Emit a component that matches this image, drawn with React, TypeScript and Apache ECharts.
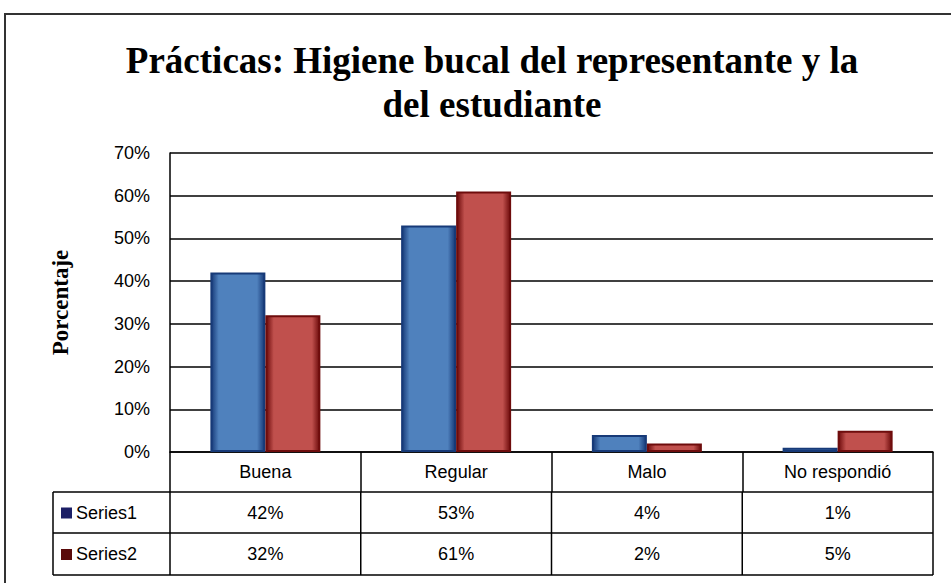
import React, { useEffect, useRef } from "react";
import * as echarts from "echarts";

const categories = ["Buena", "Regular", "Malo", "No respondió"];
const series1 = [42, 53, 4, 1];
const series2 = [32, 61, 2, 5];
const seriesNames = ["Series1", "Series2"];
const yTicks = [0, 10, 20, 30, 40, 50, 60, 70];

const PLOT_L = 170;
const PLOT_R = 933;
const PLOT_T = 153;
const PLOT_B = 452;
const TABLE_L = 53;
const ROW1 = 492;
const ROW2 = 533;
const ROW3 = 575;

const SANS = "'Liberation Sans', Arial, sans-serif";
const SERIF = "'Liberation Serif', 'Times New Roman', serif";

function barGradient(dark: string, main: string) {
  return new echarts.graphic.LinearGradient(0, 0, 1, 0, [
    { offset: 0, color: dark },
    { offset: 0.14, color: main },
    { offset: 0.86, color: main },
    { offset: 1, color: dark },
  ]);
}

export default function App() {
  const ref = useRef<HTMLDivElement>(null);
  useEffect(() => {
    document.body.style.margin = "0";
    const chart = echarts.init(ref.current!, null, { renderer: "svg" });
    const catW = (PLOT_R - PLOT_L) / categories.length;
    const lineStyle = { stroke: "#000", lineWidth: 1.5 };
    const graphics: any[] = [];
    // outer frame
    graphics.push({
      type: "rect",
      shape: { x: 5, y: 14, width: 1000, height: 700 },
      style: { fill: "none", stroke: "#333", lineWidth: 2 },
      z: 1,
    });
    // table horizontal lines
    [ROW1, ROW2, ROW3].forEach((y) =>
      graphics.push({ type: "line", shape: { x1: TABLE_L, y1: y, x2: PLOT_R, y2: y }, style: lineStyle })
    );
    // table vertical lines
    graphics.push({ type: "line", shape: { x1: TABLE_L, y1: ROW1, x2: TABLE_L, y2: ROW3 }, style: lineStyle });
    for (let i = 0; i <= categories.length; i++) {
      const x = PLOT_L + i * catW;
      graphics.push({ type: "line", shape: { x1: x, y1: ROW1, x2: x, y2: ROW3 }, style: lineStyle });
    }
    const rows = [series1, series2];
    const keyColors = ["#1c1f66", "#5a0a0a"];
    const rowYs = [(ROW1 + ROW2) / 2, (ROW2 + ROW3) / 2];
    rows.forEach((vals, r) => {
      graphics.push({
        type: "rect",
        shape: { x: 61, y: rowYs[r] - 5, width: 11, height: 11 },
        style: { fill: keyColors[r] },
      });
      graphics.push({
        type: "text",
        x: 76,
        y: rowYs[r],
        style: { text: seriesNames[r], font: `18px ${SANS}`, fill: "#000", textVerticalAlign: "middle" },
      });
      vals.forEach((v, i) => {
        graphics.push({
          type: "text",
          x: PLOT_L + (i + 0.5) * catW,
          y: rowYs[r],
          style: {
            text: `${v}%`,
            font: `18px ${SANS}`,
            fill: "#000",
            textAlign: "center",
            textVerticalAlign: "middle",
          },
        });
      });
    });

    chart.setOption({
      animation: false,
      backgroundColor: "#fff",
      title: {
        text: "Prácticas: Higiene bucal del representante y la\ndel estudiante",
        left: 487,
        top: 33,
        textAlign: "center",
        textStyle: {
          fontFamily: SERIF,
          fontWeight: "bold",
          fontSize: 37,
          lineHeight: 44,
          color: "#000",
        },
      },
      grid: {
        left: PLOT_L,
        top: PLOT_T,
        width: PLOT_R - PLOT_L,
        height: PLOT_B - PLOT_T,
        containLabel: false,
      },
      xAxis: {
        type: "category",
        data: categories,
        axisLine: { show: true, lineStyle: { color: "#000", width: 1.5 } },
        axisTick: { show: true, length: ROW1 - PLOT_B, interval: 0, lineStyle: { color: "#000", width: 1.5 } },
        axisLabel: { interval: 0, margin: 11, fontFamily: SANS, fontSize: 18, color: "#000" },
      },
      yAxis: {
        type: "value",
        min: 0,
        max: 70,
        interval: 10,
        name: "Porcentaje",
        nameLocation: "middle",
        nameGap: 98,
        nameTextStyle: { fontFamily: SERIF, fontWeight: "bold", fontSize: 23, color: "#000" },
        axisLine: { show: true, lineStyle: { color: "#000", width: 1.5 } },
        axisTick: { show: false },
        axisLabel: {
          formatter: (v: number) => (yTicks.includes(v) ? `${v}%` : ""),
          fontFamily: SANS,
          fontSize: 18,
          color: "#000",
          margin: 20,
        },
        splitLine: { show: true, lineStyle: { color: "#000", width: 1.5 } },
      },
      series: [
        {
          name: seriesNames[0],
          type: "bar",
          data: series1,
          barWidth: 55,
          barGap: "0%",
          itemStyle: { color: barGradient("#173a78", "#4f81bd"), borderColor: "#173a78", borderWidth: 2 },
        },
        {
          name: seriesNames[1],
          type: "bar",
          data: series2,
          barWidth: 55,
          barGap: "0%",
          itemStyle: { color: barGradient("#6e0c0c", "#c0504d"), borderColor: "#6e0c0c", borderWidth: 2 },
        },
      ],
      graphic: graphics,
    });
    return () => chart.dispose();
  }, []);
  return <div ref={ref} style={{ width: 951, height: 583 }} />;
}
